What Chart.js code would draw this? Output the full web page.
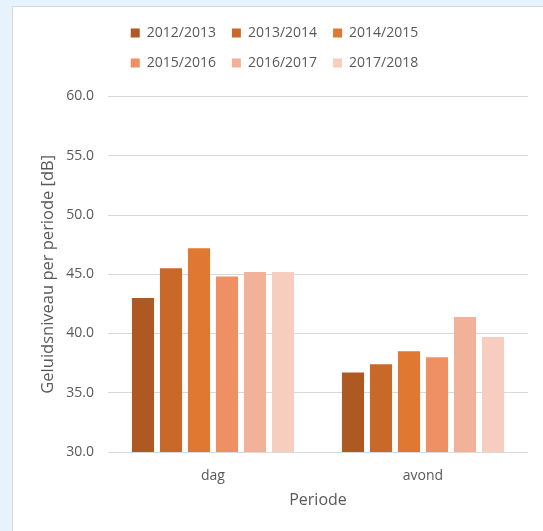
<!DOCTYPE html>
<html>
<head>
<meta charset="utf-8">
<script src="https://cdn.jsdelivr.net/npm/chart.js@4"></script>
<style>
  html, body { margin: 0; padding: 0; }
  body { width: 543px; height: 531px; background: #e7f3fc; overflow: hidden; position: relative; }
  #panel {
    position: absolute; left: 12px; top: 6px; width: 540px; height: 540px;
    background: #ffffff; border-left: 1px solid #d2d9df; border-top: 1px solid #d2d9df;
  }
  #wrap { position: absolute; left: 0; top: 0; width: 531px; height: 524px; }
</style>
</head>
<body>
<div id="panel"><div id="wrap"><canvas id="c"></canvas></div></div>
<script>
// Periods on the x axis
const periods = ['dag', 'avond'];
// Seasons shown as series
const seasons = ['2012/2013', '2013/2014', '2014/2015', '2015/2016', '2016/2017', '2017/2018'];
// Sound level per period [dB], one array per season: [dag, avond]
const s2012 = [43.0, 36.7];
const s2013 = [45.5, 37.4];
const s2014 = [47.2, 38.5];
const s2015 = [44.8, 38.0];
const s2016 = [45.2, 41.4];
const s2017 = [45.2, 39.7];
const seriesValues = [s2012, s2013, s2014, s2015, s2016, s2017];
const seriesColors = ['#ae5921', '#c8692a', '#e07831', '#ef8f64', '#f2b29a', '#f6cdbf'];

const textColor = '#595959';
const fontFamily = '"Open Sans", sans-serif';

// Wraps the legend after three items per row and reserves room below it
const legendRows = {
  id: 'legendRows',
  afterInit(chart) {
    const legend = chart.legend;
    const fit = legend.fit.bind(legend);
    legend.fit = function () {
      const full = this.maxWidth;
      this.maxWidth = Math.min(full, 330);
      fit();
      this.maxWidth = full;
      this.width = full;
      this.height = 86.5;
    };
  }
};

new Chart(document.getElementById('c'), {
  type: 'bar',
  data: {
    labels: periods,
    datasets: seasons.map((name, i) => ({
      label: name,
      data: seriesValues[i],
      backgroundColor: seriesColors[i],
      borderWidth: 0,
      categoryPercentage: 0.8,
      barPercentage: 0.79
    }))
  },
  options: {
    responsive: true,
    maintainAspectRatio: false,
    animation: false,
    layout: { padding: { left: 8, right: 16, top: 3, bottom: 0 } },
    plugins: {
      legend: {
        position: 'top',
        labels: {
          boxWidth: 9,
          boxHeight: 9,
          padding: 16,
          color: textColor,
          font: { family: fontFamily, size: 14 }
        }
      },
      tooltip: { enabled: false }
    },
    scales: {
      x: {
        grid: { display: false },
        border: { display: false },
        ticks: { color: textColor, padding: 8, font: { family: fontFamily, size: 14 } },
        title: {
          display: true, text: 'Periode', color: textColor,
          font: { family: fontFamily, size: 16 },
          padding: { top: 2, bottom: 21 }
        },
        afterFit(scale) { scale.height = 79; }
      },
      y: {
        min: 30,
        max: 60,
        grid: { color: '#d9d9d9', lineWidth: 1, drawTicks: false },
        border: { display: false },
        ticks: {
          stepSize: 5,
          color: textColor,
          padding: 14,
          font: { family: fontFamily, size: 14 },
          callback: v => Number(v).toFixed(1)
        },
        title: {
          display: true, text: 'Geluidsniveau per periode [dB]', color: textColor,
          font: { family: fontFamily, size: 16.5 },
          padding: { top: 17, bottom: 0 }
        },
        afterFit(scale) { scale.width = 87; }
      }
    }
  },
  plugins: [legendRows]
});
</script>
</body>
</html>
